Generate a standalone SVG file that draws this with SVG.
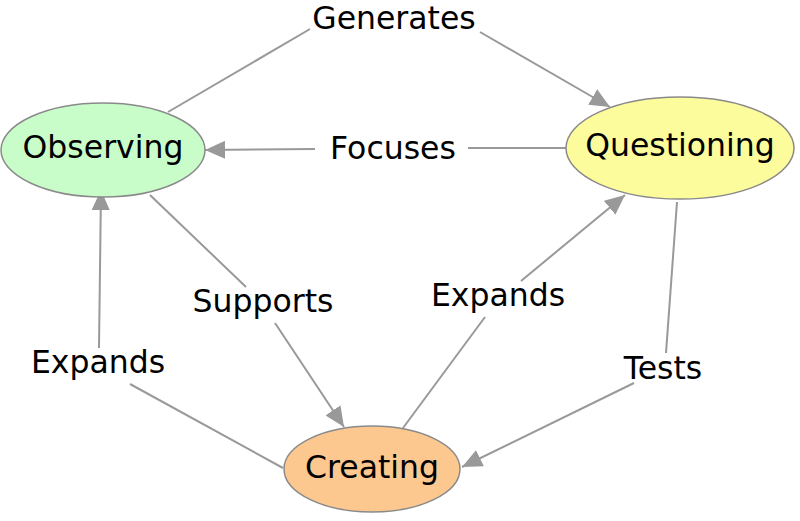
<svg xmlns="http://www.w3.org/2000/svg" width="800" height="521" viewBox="0 0 800 521">
<style>
.node{stroke:#8a8a8a;stroke-width:1.5}
.t{font-family:"DejaVu Sans","Verdana",sans-serif;font-size:31.5px;fill:#000;text-anchor:middle}
.c{stroke:#999;stroke-width:2;fill:none}
</style>
<defs>
<marker id="arr" viewBox="0 0 20 18" refX="20" refY="9" markerWidth="20" markerHeight="18" markerUnits="userSpaceOnUse" orient="auto">
<path d="M0,0 L20,9 L0,18 z" fill="#999"/>
</marker>
</defs>
<rect width="800" height="521" fill="#fff"/>
<g id="connectors">
<g id="e-generates">
<line class="c" x1="168" y1="112" x2="310" y2="29"/>
<line class="c" x1="480" y1="32" x2="610" y2="107" marker-end="url(#arr)"/>
<text class="t" x="394" y="29">Generates</text>
</g>
<g id="e-focuses">
<line class="c" x1="566" y1="148" x2="468" y2="148"/>
<line class="c" x1="315" y1="149" x2="205" y2="150" marker-end="url(#arr)"/>
<text class="t" x="393" y="159">Focuses</text>
</g>
<g id="e-supports">
<line class="c" x1="150" y1="195" x2="246" y2="287"/>
<line class="c" x1="275" y1="323" x2="344" y2="427" marker-end="url(#arr)"/>
<text class="t" x="263" y="312">Supports</text>
</g>
<g id="e-expands-q">
<line class="c" x1="403" y1="428" x2="485" y2="317"/>
<line class="c" x1="521" y1="281" x2="625" y2="195" marker-end="url(#arr)"/>
<text class="t" x="498" y="306">Expands</text>
</g>
<g id="e-tests">
<line class="c" x1="677" y1="202" x2="666" y2="353"/>
<line class="c" x1="634" y1="383" x2="462" y2="467" marker-end="url(#arr)"/>
<text class="t" x="663" y="379">Tests</text>
</g>
<g id="e-expands-o">
<line class="c" x1="283" y1="468" x2="130" y2="384"/>
<line class="c" x1="99" y1="348" x2="101" y2="190" marker-end="url(#arr)"/>
<text class="t" x="98" y="373">Expands</text>
</g>
</g>
<g id="observing">
<ellipse class="node" cx="103" cy="150" rx="102" ry="47" fill="#c8fcc8"/>
<text class="t" x="103" y="158">Observing</text>
</g>
<g id="questioning">
<ellipse class="node" cx="680" cy="148" rx="114" ry="51" fill="#fcfc9c"/>
<text class="t" x="680" y="156">Questioning</text>
</g>
<g id="creating">
<ellipse class="node" cx="372" cy="469" rx="88" ry="43" fill="#fcc890"/>
<text class="t" x="372" y="478">Creating</text>
</g>
</svg>
